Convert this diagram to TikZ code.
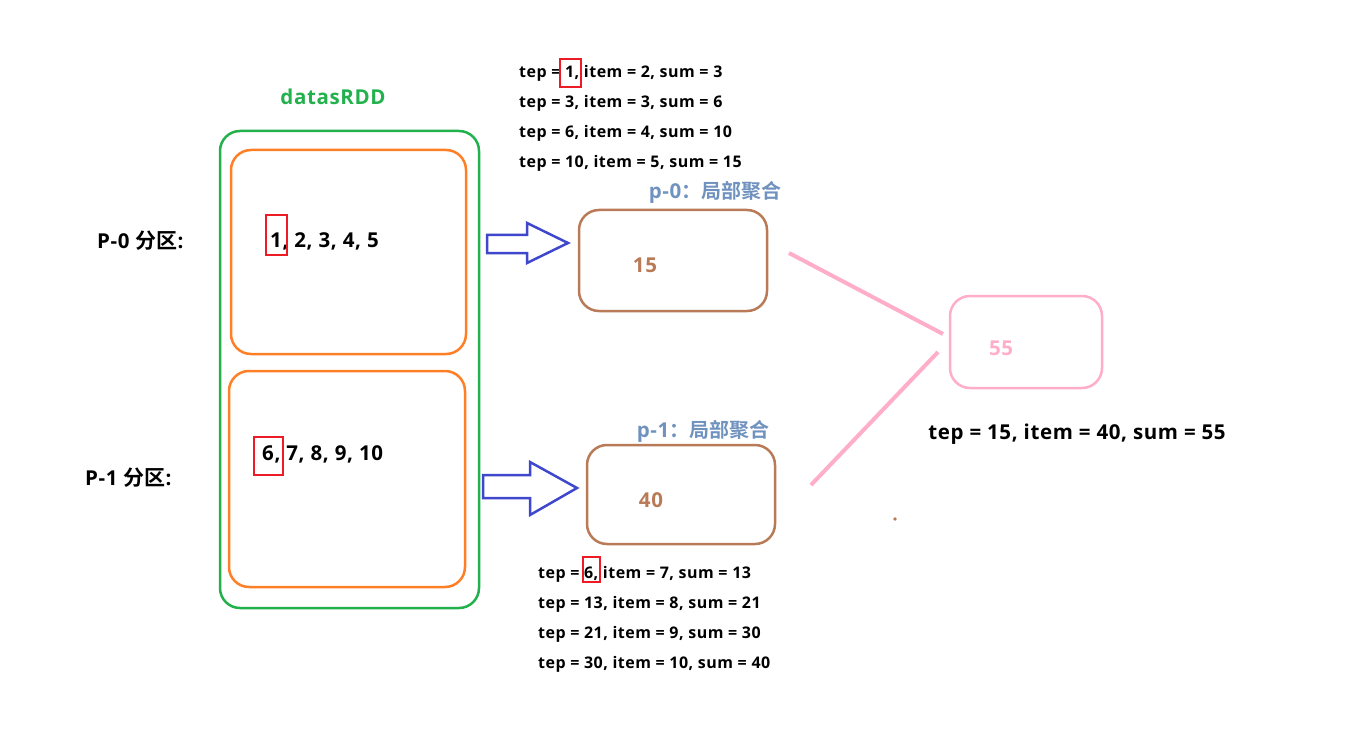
\documentclass[tikz,border=0pt]{standalone}
\usepackage{fontspec}
\setmainfont{Open Sans}[LetterSpace=3]
\newfontfamily\cjk{Noto Sans CJK SC}[BoldFont={* Bold}]
\definecolor{cgreen}{RGB}{34,177,76}
\definecolor{corange}{RGB}{255,127,39}
\definecolor{cblue}{RGB}{63,72,204}
\definecolor{cbrown}{RGB}{185,122,87}
\definecolor{cpink}{RGB}{255,174,201}
\definecolor{csteel}{RGB}{112,146,190}
\definecolor{cred}{RGB}{237,28,36}
\begin{document}
\begin{tikzpicture}[x=1pt,y=-1pt,
  box/.style={draw,rounded corners=20pt,line width=2.5pt},
  txt/.style={font=\fontsize{16}{18}\selectfont\bfseries,anchor=west,inner sep=0pt},
  big/.style={font=\fontsize{20.5}{22}\selectfont\bfseries,inner sep=0pt},
  redbox/.style={draw=cred,line width=2pt},
  arrowshape/.style={draw=cblue,line width=2.5pt,line join=miter}
]
\useasboundingbox (0,0) rectangle (1352,730);
% green container
\draw[box,draw=cgreen] (220,131) rectangle (479,608);
\node[big,text=cgreen] (rdd) at (333,97) {datasRDD};
% partitions
\draw[box,draw=corange] (231,150) rectangle (466,354);
\draw[box,draw=corange] (229,371) rectangle (465,587);
\node[big,anchor=west] (p0) at (97,241) {P-0 {\cjk\bfseries\fontsize{21}{22}\selectfont 分区}:};
\node[big,anchor=west] (p1) at (85,478) {P-1 {\cjk\bfseries\fontsize{21}{22}\selectfont 分区}:};
\node[big,anchor=west] (d0) at (270,241) {1, 2, 3, 4, 5};
\draw[redbox] (266,215) rectangle (287,255);
\node[big,anchor=west] (d1) at (262,454) {6, 7, 8, 9, 10};
\draw[redbox] (254,437) rectangle (283,475);
% blue arrows
\draw[arrowshape] (487,235) -- (527,235) -- (527,223) -- (568,243) -- (527,263) -- (527,253) -- (487,253) -- cycle;
\draw[arrowshape] (483,475) -- (530,475) -- (530,462) -- (577,488) -- (530,515) -- (530,498) -- (483,498) -- cycle;
% brown boxes
\node[box,draw=cbrown,minimum width=188pt,minimum height=101pt,inner sep=0pt] (b0) at (673,260.5) {};
\node[big,text=cbrown] (s0) at (645,265) {15};
\node[box,draw=cbrown,minimum width=188pt,minimum height=99pt,inner sep=0pt] (b1) at (681,494.5) {};
\node[big,text=cbrown] (s1) at (651,500) {40};
\node[big,text=csteel] (l0) at (715,192) {p-0{\cjk\bfseries\fontsize{20}{22}\selectfont ：局部聚合}};
\node[big,text=csteel] (l1) at (703,431) {p-1{\cjk\bfseries\fontsize{20}{22}\selectfont ：局部聚合}};
% pink
\node[box,draw=cpink,minimum width=152pt,minimum height=92pt,inner sep=0pt] (pk) at (1026,342) {};
\node[big,text=cpink] (s2) at (1001,348) {55};
\coordinate (a1) at (789,253);
\coordinate (a2) at (943,334);
\coordinate (c1) at (938,352);
\coordinate (c2) at (811,485);
\draw[cpink,line width=4pt] (a1) -- (a2);
\draw[cpink,line width=4pt] (c1) -- (c2);
\node[big] (res) at (1077,434) {tep = 15, item = 40, sum = 55};
\fill[cbrown] (895,519) circle (1.8pt);
% top lines
\node[txt] (t1) at (519,73) {tep = 1, item = 2, sum = 3};
\node[txt] (t2) at (519,103) {tep = 3, item = 3, sum = 6};
\node[txt] (t3) at (519,133) {tep = 6, item = 4, sum = 10};
\node[txt] (t4) at (519,163) {tep = 10, item = 5, sum = 15};
\draw[redbox] (560,59) rectangle (581,87);
% bottom lines
\node[txt] (u1) at (538,574) {tep = 6, item = 7, sum = 13};
\node[txt] (u2) at (538,604) {tep = 13, item = 8, sum = 21};
\node[txt] (u3) at (538,634) {tep = 21, item = 9, sum = 30};
\node[txt] (u4) at (538,664) {tep = 30, item = 10, sum = 40};
\draw[redbox] (583,557) rectangle (600,582);
\end{tikzpicture}
\end{document}
